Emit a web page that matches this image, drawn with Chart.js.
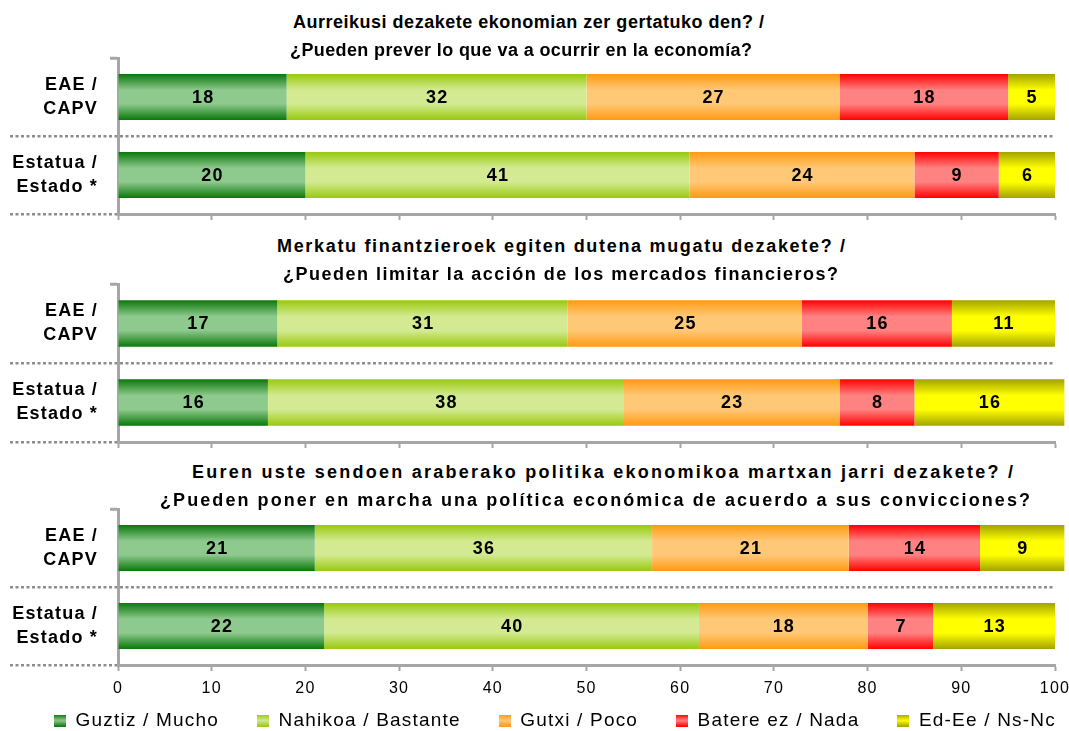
<!DOCTYPE html>
<html>
<head>
<meta charset="utf-8">
<title>Ekonomia / Economía</title>
<script src="https://cdn.jsdelivr.net/npm/chart.js@4.4.1/dist/chart.umd.min.js"></script>
<style>
  html, body { margin: 0; padding: 0; background: #ffffff; }
  body { position: relative; width: 1069px; height: 731px; overflow: hidden; font-family: "Liberation Sans", Arial, sans-serif; }
  canvas { position: absolute; left: 0; }
  .ttl { position: absolute; font-weight: bold; color: #000; white-space: nowrap; line-height: 28px; font-size: 18px; }
</style>
</head>
<body>
<canvas id="q1" width="1069" height="180" style="top:50px"></canvas>
<canvas id="q2" width="1069" height="182" style="top:276px"></canvas>
<canvas id="q3" width="1100" height="271" style="top:501px"></canvas>
<script>
  const questions = [
    ["Aurreikusi dezakete ekonomian zer gertatuko den? /", "¿Pueden prever lo que va a ocurrir en la economía?"],
    ["Merkatu finantzieroek egiten dutena mugatu dezakete? /", "¿Pueden limitar la acción de los mercados financieros?"],
    ["Euren uste sendoen araberako politika ekonomikoa martxan jarri dezakete? /", "¿Pueden poner en marcha una política económica de acuerdo a sus convicciones?"]
  ];
  const rowLabels = [["EAE /", "CAPV"], ["Estatua /", "Estado *"]];
  const seriesNames = ["Guztiz / Mucho", "Nahikoa / Bastante", "Gutxi / Poco", "Batere ez / Nada", "Ed-Ee / Ns-Nc"];

  // one pair per question: [EAE/CAPV, Estatua/Estado]
  const mucho = [[18, 20], [17, 16], [21, 22]];
  const bastante = [[32, 41], [31, 38], [36, 40]];
  const poco = [[27, 24], [25, 23], [21, 18]];
  const nada = [[18, 9], [16, 8], [14, 7]];
  const nsnc = [[5, 6], [11, 16], [9, 13]];
  const xTicks = [0, 10, 20, 30, 40, 50, 60, 70, 80, 90, 100];

  // where each title line sits: [left, right, middle y]
  const titleSpots = [
    [[293, 764, 22], [290, 752, 50]],
    [[277, 845, 246], [283, 838, 274]],
    [[192, 1013, 472], [160, 1030, 500]]
  ];

  const shades = [
    ["#0a780a", "#8ec98e"],
    ["#99c90f", "#d3ea92"],
    ["#ff9a12", "#ffc877"],
    ["#ff0000", "#ff8282"],
    ["#a3a300", "#ffff00"]
  ];
  const barPct = 0.59;
  const axisGrey = "#a6a6a6";
  const dotGrey = "#8c8c8c";
  const spacing = "1.2px";
  const plotRight = 1055;
  const legendShift = [5, -32];

  Chart.defaults.font.family = '"Liberation Sans", Arial, sans-serif';
  Chart.defaults.color = "#000000";

  function gradientFill(edge, mid) {
    return function (c) {
      const y = c.chart.scales.y;
      if (c.type !== "data" || !y) return mid;
      const center = y.getPixelForValue(c.dataIndex);
      const half = (y.bottom - y.top) / rowLabels.length * barPct / 2;
      if (!isFinite(center) || !isFinite(half) || half <= 0) return mid;
      const g = c.chart.ctx.createLinearGradient(0, center - half, 0, center + half);
      g.addColorStop(0, edge);
      g.addColorStop(0.35, mid);
      g.addColorStop(0.65, mid);
      g.addColorStop(1, edge);
      return g;
    };
  }

  function swatch(edge, mid) {
    const cv = document.createElement("canvas");
    cv.width = 12;
    cv.height = 12;
    const g2 = cv.getContext("2d");
    const g = g2.createLinearGradient(0, 0, 0, 12);
    g.addColorStop(0, edge);
    g.addColorStop(0.5, mid);
    g.addColorStop(1, edge);
    g2.fillStyle = g;
    g2.fillRect(0, 0, 12, 12);
    return cv;
  }
  const swatches = shades.map(s => swatch(s[0], s[1]));

  const letterSpacing = {
    id: "letterSpacing",
    beforeUpdate(chart) { chart.ctx.letterSpacing = spacing; },
    beforeDraw(chart) { chart.ctx.letterSpacing = spacing; }
  };

  // the legend sits under the axis labels
  const legendSpot = {
    id: "legendSpot",
    afterLayout(chart) {
      const lg = chart.legend;
      if (!lg || !lg.options.display) return;
      lg.left += legendShift[0];
      lg.right += legendShift[0];
      lg.top += legendShift[1];
      lg.bottom += legendShift[1];
    }
  };

  const valueLabels = {
    id: "valueLabels",
    afterDatasetsDraw(chart) {
      const ctx = chart.ctx;
      ctx.save();
      ctx.font = 'bold 18px "Liberation Sans", Arial, sans-serif';
      ctx.fillStyle = "#000";
      ctx.textAlign = "center";
      ctx.textBaseline = "middle";
      chart.data.datasets.forEach((ds, di) => {
        chart.getDatasetMeta(di).data.forEach((bar, i) => {
          const p = bar.getCenterPoint();
          ctx.fillText(String(ds.data[i]), p.x + 0.6, p.y + 1);
        });
      });
      ctx.restore();
    }
  };

  function buildChart(id, q, last) {
    const values = [mucho, bastante, poco, nada, nsnc];
    const canvas = document.getElementById(id);
    new Chart(canvas, {
      type: "bar",
      data: {
        labels: rowLabels,
        datasets: values.map((series, k) => ({
          label: seriesNames[k],
          data: series[q],
          backgroundColor: gradientFill(shades[k][0], shades[k][1]),
          borderWidth: 0,
          barPercentage: barPct,
          categoryPercentage: 1,
          clip: false
        }))
      },
      options: {
        indexAxis: "y",
        responsive: false,
        animation: false,
        events: [],
        layout: { padding: { top: 8, left: 0, right: 0, bottom: 0 } },
        plugins: {
          tooltip: { enabled: false },
          legend: last ? {
            display: true,
            position: "bottom",
            labels: {
              color: "#000",
              font: { size: 19 },
              padding: 38,
              usePointStyle: true,
              boxWidth: 12,
              boxHeight: 12,
              generateLabels: chart => chart.data.datasets.map((ds, k) => ({
                text: ds.label,
                pointStyle: swatches[k],
                fillStyle: shades[k][1],
                strokeStyle: "rgba(0,0,0,0)",
                lineWidth: 0,
                hidden: false,
                datasetIndex: k
              }))
            }
          } : { display: false }
        },
        scales: {
          x: {
            type: "linear",
            stacked: true,
            min: 0,
            max: 100,
            afterBuildTicks(s) { s.ticks = xTicks.map(v => ({ value: v })); },
            afterFit(s) {
              s.height = last ? 40 : 16;
              s.paddingLeft = 0;
              s.paddingRight = canvas.width - plotRight;
            },
            ticks: { display: last, color: "#000", font: { size: 16 }, padding: 8 },
            grid: { drawOnChartArea: false, tickLength: 6, tickColor: axisGrey, tickWidth: 2 },
            border: { color: axisGrey, width: 3 }
          },
          y: {
            type: "category",
            stacked: true,
            offset: true,
            afterFit(s) { s.width = 118; },
            ticks: { color: "#000", font: { size: 18, weight: "bold", lineHeight: 1.33 }, padding: -88 },
            grid: {
              offset: true,
              tickLength: 108,
              color: c => c.index === 1 ? dotGrey : "rgba(0,0,0,0)",
              lineWidth: 2.5,
              tickColor: c => c.index === 0 ? axisGrey : dotGrey,
              tickWidth: c => c.index === 0 ? 3 : 2.5,
              tickBorderDash: c => c.index === 0 ? [0, 100, 7, 20] : [3, 2.5]
            },
            border: { color: axisGrey, width: 3, dash: [3, 2.5] }
          }
        }
      },
      plugins: [letterSpacing, legendSpot, valueLabels]
    });
  }

  questions.forEach((lines, q) => {
    lines.forEach((text, j) => {
      const [left, right, mid] = titleSpots[q][j];
      const el = document.createElement("div");
      el.className = "ttl";
      el.textContent = text;
      document.body.appendChild(el);
      const natural = el.getBoundingClientRect().width;
      el.style.letterSpacing = ((right - left - natural) / (text.length - 1)) + "px";
      el.style.left = left + "px";
      el.style.top = (mid - 14) + "px";
    });
  });

  buildChart("q1", 0, false);
  buildChart("q2", 1, false);
  buildChart("q3", 2, true);
</script>
</body>
</html>
